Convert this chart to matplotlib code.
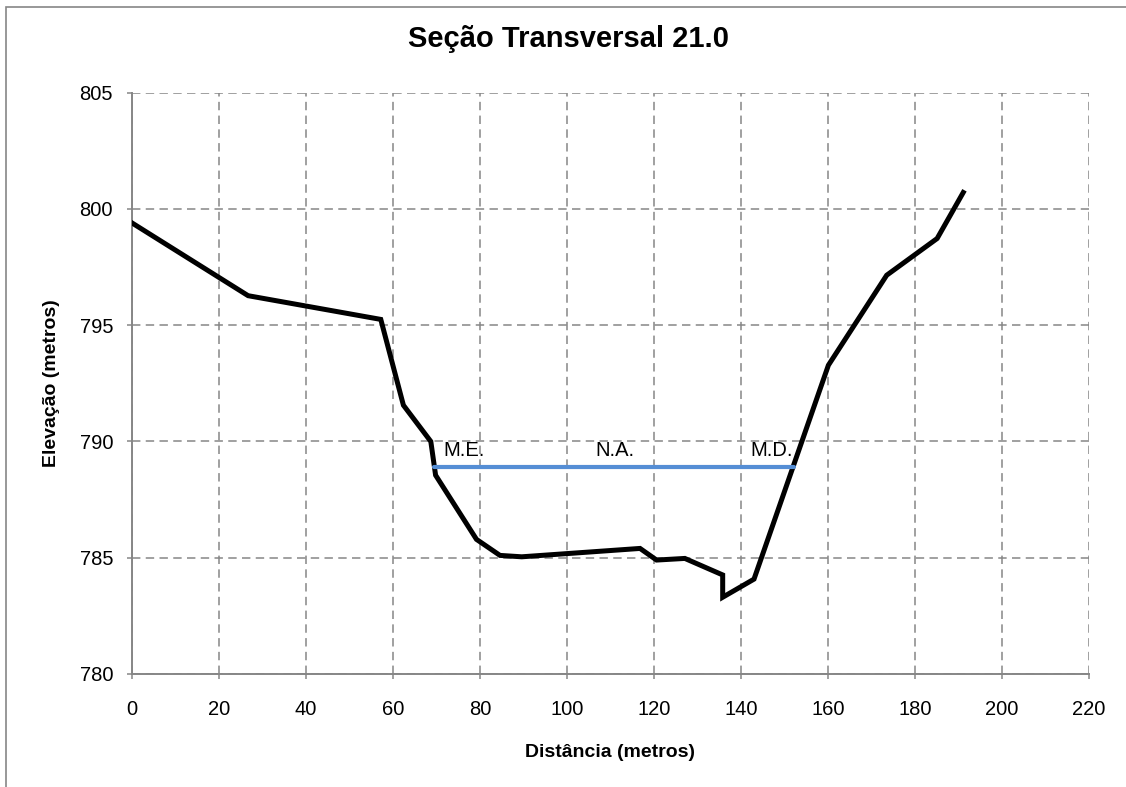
import matplotlib
matplotlib.use('Agg')
import matplotlib.pyplot as plt
from matplotlib import rcParams
from matplotlib.patches import Rectangle

rcParams.update({
    "font.family": ['Liberation Sans', 'DejaVu Sans'],
    "font.size": 14,
})

# perfil da seção (distância, elevação)
distancia = [0, 26.7, 57.2, 62.4, 68.7, 69.8, 79.2, 84.6, 89.6, 116.8,
             120.6, 127.1, 135.8, 135.8, 143.0, 160.1, 173.5, 185.1, 191.1]
elevacao = [799.4, 796.27, 795.25, 791.56, 790.0, 788.55, 785.79, 785.1, 785.04, 785.4,
            784.9, 784.97, 784.26, 783.3, 784.08, 793.28, 797.15, 798.73, 800.71]

# nível d'água: margem esquerda, centro, margem direita
na_x = [69.5, 111.0, 152.2]
na_y = [788.89, 788.89, 788.89]
na_labels = ["M.E.", "N.A.", "M.D."]

x_ticks = [0, 20, 40, 60, 80, 100, 120, 140, 160, 180, 200, 220]
y_ticks = [780, 785, 790, 795, 800, 805]

fig = plt.figure(figsize=(11.26, 7.87), dpi=100)
ax = fig.add_axes([0.1172, 0.1436, 0.8499, 0.7386])

grid_color = '#868686'
ax.grid(True, color=grid_color, linestyle=(0, (5.5, 3.5)), linewidth=1.1)
ax.set_axisbelow(True)

ax.plot(distancia, elevacao, color='black', linewidth=3.6, solid_joinstyle='miter', zorder=3)
ax.plot([na_x[0], na_x[-1]], [na_y[0], na_y[-1]], color='#558ED5', linewidth=3.0,
        solid_capstyle='round', zorder=4)

ax.text(na_x[0] + 2.2, na_y[0] + 0.3, na_labels[0], fontsize=14.5, ha='left', va='bottom')
ax.text(na_x[1], na_y[1] + 0.3, na_labels[1], fontsize=14.5, ha='center', va='bottom')
ax.text(na_x[2] - 0.2, na_y[2] + 0.3, na_labels[2], fontsize=14.5, ha='right', va='bottom')

ax.set_xlim(0, 220)
ax.set_ylim(780, 805)
ax.set_xticks(x_ticks)
ax.set_yticks(y_ticks)
ax.tick_params(direction='out', length=3.6, width=1.1, color=grid_color, labelsize=14.5)
ax.tick_params(axis='x', pad=15)
ax.tick_params(axis='y', pad=10)

for side in ['top', 'right']:
    ax.spines[side].set_visible(False)
for side in ['left', 'bottom']:
    ax.spines[side].set_color(grid_color)
    ax.spines[side].set_linewidth(1.4)

ax.set_xlabel('Distância (metros)', fontsize=14, fontweight='bold', labelpad=18)
ax.set_ylabel('Elevação (metros)', fontsize=14, fontweight='bold', labelpad=14)

fig.text(0.505, 0.951, 'Seção Transversal 21.0', fontsize=21, fontweight='bold',
         ha='center', va='center')

# moldura da área do gráfico
fig.patches.append(Rectangle((6 / 1126, -0.1), 1.2, 1 - 7 / 787 + 0.1,
                             transform=fig.transFigure, fill=False,
                             edgecolor='#868686', linewidth=1.2))

plt.savefig('out.png', dpi=100)
